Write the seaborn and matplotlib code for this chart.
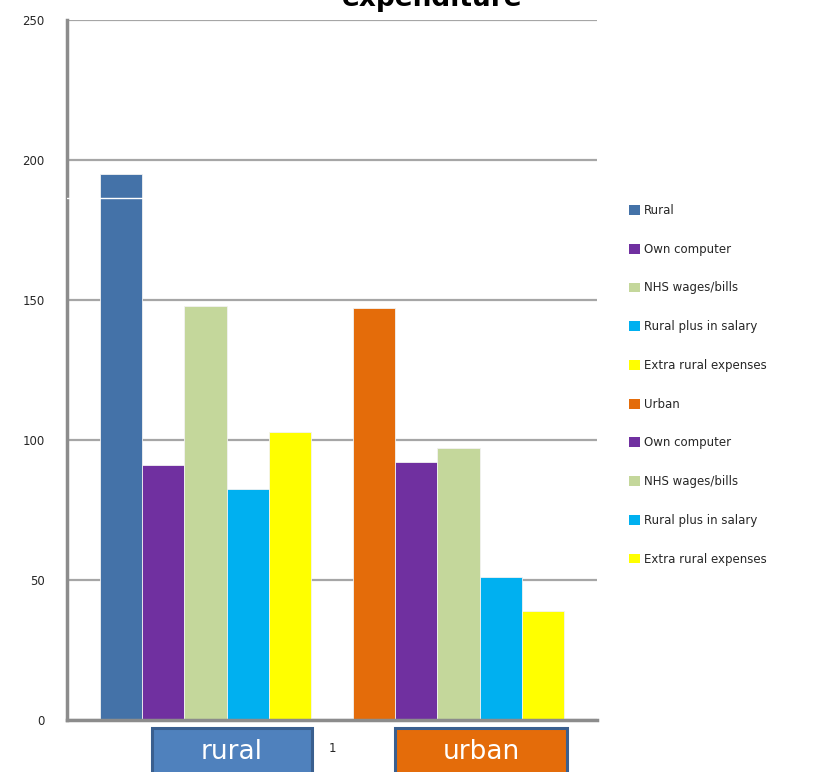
import matplotlib
matplotlib.use("Agg")
import matplotlib.pyplot as plt
import matplotlib.patches as mpatches
import seaborn as sns
import pandas as pd

# ---- data ----
series_keys = ["Rural", "Own computer (r)", "NHS wages/bills (r)", "Rural plus in salary (r)",
               "Extra rural expenses (r)", "", "Urban", "Own computer (u)", "NHS wages/bills (u)",
               "Rural plus in salary (u)", "Extra rural expenses (u)"]
legend_labels = ["Rural", "Own computer", "NHS wages/bills", "Rural plus in salary",
                 "Extra rural expenses", "Urban", "Own computer", "NHS wages/bills",
                 "Rural plus in salary", "Extra rural expenses"]
values = [195, 91, 148, 82.5, 103, 0, 147, 92.3, 97.3, 51, 38.8]
colors = ["#4472A8", "#7030A0", "#C4D79B", "#00B0F0", "#FFFF00", "#FFFFFF",
          "#E46C0A", "#7030A0", "#C4D79B", "#00B0F0", "#FFFF00"]
category_label = "1"
group_labels = ["rural", "urban"]
y_ticks = [0, 50, 100, 150, 200, 250]
title = "expenditure"

df = pd.DataFrame({"series": series_keys, "value": values})
palette = dict(zip(series_keys, colors))

sns.set_style("white")
plt.rcParams["font.family"] = ["DejaVu Sans"]

fig = plt.figure(figsize=(8.24, 7.72), dpi=100)
ax = fig.add_axes([67 / 824, 1 - 720 / 772, 530 / 824, 700 / 772])

sns.barplot(data=df, x="series", y="value", hue="series", order=series_keys,
            hue_order=series_keys, palette=palette, width=1.0, dodge=False,
            legend=False, ax=ax, edgecolor="#f2f2f2", linewidth=0.6, saturation=1)

ax.set_xlim(-0.5 - 0.78, 10.5 + 0.78)
ax.set_ylim(0, 250)
ax.set_yticks(y_ticks)
ax.set_yticklabels([str(t) for t in y_ticks], fontsize=8.5)
ax.set_xticks([5])
ax.set_xticklabels([category_label], fontsize=8.5)
ax.tick_params(axis="x", length=0, pad=16)
ax.tick_params(axis="y", length=4, width=1.5, color="#9a9a9a", pad=12, direction="out")
ax.set_xlabel("")
ax.set_ylabel("")
ax.yaxis.grid(True, color="#a6a6a6", linewidth=1.6)
ax.set_axisbelow(True)
for s in ["top", "right"]:
    ax.spines[s].set_visible(False)
for s in ["left", "bottom"]:
    ax.spines[s].set_color("#8c8c8c")
    ax.spines[s].set_linewidth(2.5)

# small white artefact line across the first bar
ax.axhline(186.5, xmin=0, xmax=(0.5 + 1.28) / 12.56, color="white", lw=1, zorder=5)

# title, partly cut off at the top as in the reference
fig.text(432 / 824, 1 - 6 / 772, title, ha="center", va="baseline",
         fontsize=19, fontweight="bold", color="black")

# group label boxes under the axis
box_specs = [(152, 312, "#4F81BD"), (395, 567, "#E46C0A")]
for (x0, x1, fc), lab in zip(box_specs, group_labels):
    r = mpatches.Rectangle((x0 / 824, 1 - 800 / 772), (x1 - x0) / 824, 72 / 772,
                           transform=fig.transFigure, facecolor=fc,
                           edgecolor="#3A5F8F", linewidth=2.2, clip_on=False)
    fig.add_artist(r)
    fig.text((x0 + x1) / 2 / 824, 1 - 752 / 772, lab, ha="center", va="center",
             fontsize=19, color="white")

# legend
handles = [mpatches.Patch(facecolor=c, edgecolor="none")
           for k, c in zip(series_keys, colors) if k != ""]
fig.legend(handles, legend_labels, loc="upper left",
           bbox_to_anchor=(629 / 824, 1 - 204 / 772), frameon=False, fontsize=8.5,
           labelspacing=2.18, handlelength=0.9, handleheight=0.9, handletextpad=0.4,
           borderaxespad=0, borderpad=0)

fig.savefig("out.png", dpi=100)
